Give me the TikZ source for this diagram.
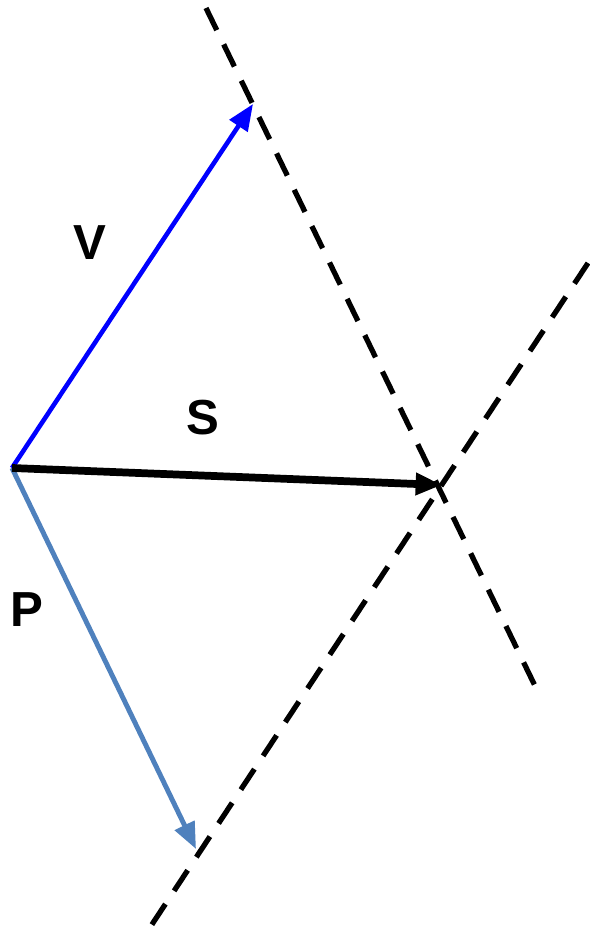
\documentclass[tikz,border=0pt]{standalone}
\usepackage{fontspec}
\setmainfont{Liberation Sans}
\usepackage{xcolor}
\usetikzlibrary{arrows.meta}
\definecolor{pblue}{RGB}{79,129,189}

\begin{document}
\begin{tikzpicture}[x=0.02cm, y=-0.02cm,
		vec/.style={-{Triangle[length=15pt, width=12pt]}},
		guide/.style={black, line width=3pt, dash pattern=on 14pt off 9pt},
		lbl/.style={font=\fontsize{28}{30}\selectfont\bfseries}]
			
			\useasboundingbox (0,0) rectangle (589,937);
			
			% Define points
			\coordinate (O) at (12,468);     % origine
			\coordinate (Vt) at (253,104);   % punta V
			\coordinate (St) at (442,485);   % punta S
			\coordinate (Pt) at (196,849);   % punta P
			
			% Dashed guide lines
			\coordinate (D1a) at (206,8);
			\coordinate (D1b) at (537,690);
			\coordinate (D2a) at (588,263);
			\coordinate (D2b) at (145,935);
			\draw[guide] (D1a) -- (D1b);
			\draw[guide] (D2a) -- (D2b);
			
			% Vectors
			\draw[vec, blue, line width=2.6pt] (O) -- (Vt);
			\draw[vec, pblue, line width=2.8pt] (O) -- (Pt);
			\draw[vec, black, line width=4.4pt] (O) -- (St);
			
			% Labels
			\node[lbl] (V) at (90,243) {V};
			\node[lbl] (S) at (203,418) {S};
			\node[lbl] (P) at (27,610) {P};
			
		\end{tikzpicture}
\end{document}
